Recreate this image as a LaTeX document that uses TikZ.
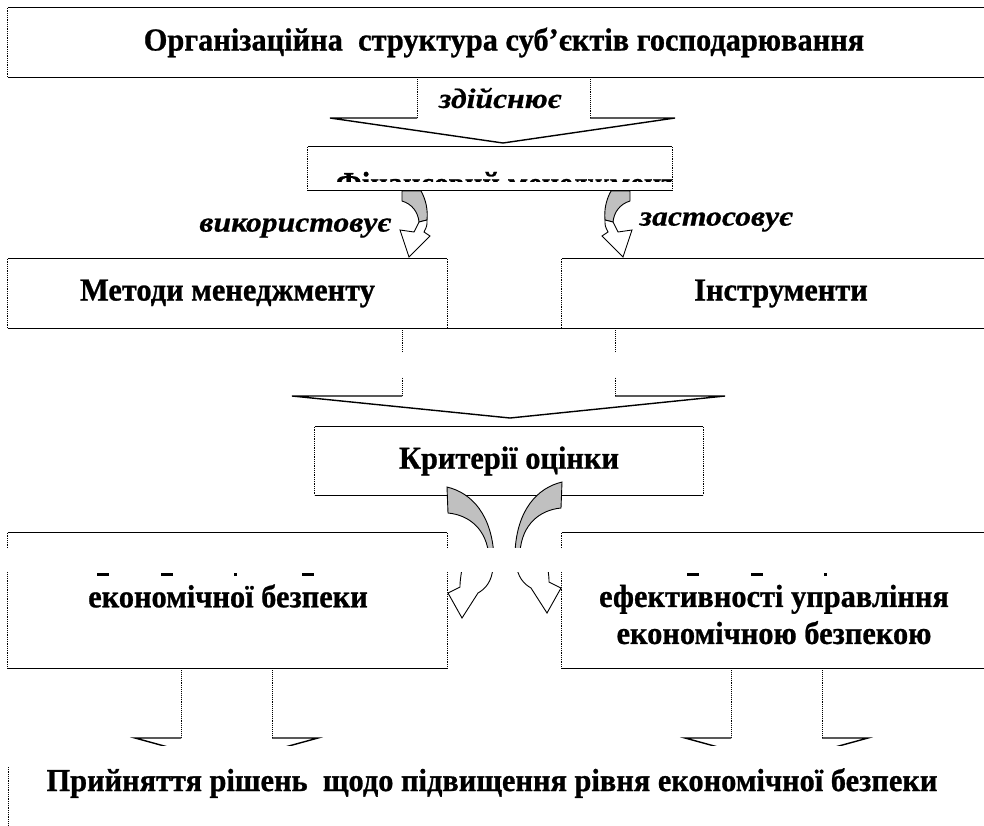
\documentclass[tikz,border=0pt]{standalone}
\usepackage{fontspec}
\setmainfont{Liberation Serif}
\newfontfamily\heavyfam{Liberation Serif}[FakeStretch=0.95,FakeBold=0.8]
\newfontfamily\verbfam{Liberation Serif}[FakeStretch=1.13,FakeBold=0.6]
\usepackage{tikz}
\usetikzlibrary{arrows.meta,positioning,calc}
\definecolor{ink}{HTML}{000000}
\definecolor{tailgray}{HTML}{C0C0C0}
\newcommand\boxfont{\heavyfam\fontsize{32}{37}\selectfont\bfseries}
\newcommand\verbfont{\verbfam\fontsize{28}{32}\selectfont\bfseries\itshape}
\tikzset{
  frame/.style ={fill=white,inner sep=0pt,align=center,font=\boxfont},
  rim/.style   ={draw=ink,line width=1.3pt},
  side/.style  ={draw=ink,line width=0.8pt,densely dotted},
  plain/.style ={inner sep=0pt,align=center,font=\boxfont},
  verb/.style  ={inner sep=0pt,font=\verbfont},
  shaft/.style ={draw=ink,line width=0.9pt,densely dotted},
  wing/.style  ={draw=ink,line width=1.4pt,line join=miter},
  tail/.style  ={fill=tailgray,draw=ink,line width=0.9pt},
  head/.style  ={fill=white,draw=ink,line width=0.9pt},
  gap/.style   ={fill=white,draw=none},
  bentarrow/.pic={
    \path[tail] (0,0) -- (19,0) .. controls (24,9) and (26,19) .. (25,29)
                -- (17,31) .. controls (16,21) and (10,13) .. (0,10) -- cycle;
    \path[head] (25,29) .. controls (25,35) .. (22,41) -- (28,45) -- (7,66)
                -- (-2,39) -- (12,41) .. controls (15,36) .. (17,31) -- cycle;
  },
  bigbent/.pic={
    \path[tail] (0,0) .. controls (25,6) and (45,28) .. (47,70)
                -- (42,70) .. controls (40,42) and (22,28) .. (1,26) -- cycle;
    \path[head] (46,80) .. controls (45,95) and (38,102) .. (31,106) -- (15,131)
                -- (1,106) -- (13,100) .. controls (13,92) and (14,90) .. (15,80) -- cycle;
  }
}

\begin{document}
\begin{tikzpicture}[x=1pt,y=-1pt]
  \useasboundingbox (0,0) rectangle (984,825);
  \clip (0,0) rectangle (984,825);
  % boxes
  \node[frame,minimum width=992pt,minimum height=69pt] (org) at (504,42.5)
       {Організаційна\ \ структура суб’єктів господарювання};
  \node[frame,minimum width=364pt,minimum height=43pt] (fin) at (490,168.5) {};
  \begin{scope}
    \clip (fin.north west) rectangle (672,181);
    \node[plain,anchor=base] (finlbl) at (506,194) {Фінансовий менеджмент};
  \end{scope}
  \node[frame,minimum width=439pt,minimum height=69pt] (meth) at (227.5,293.5) {Методи менеджменту};
  \node[frame,minimum width=438pt,minimum height=69pt] (instr) at (781,293.5) {Інструменти};
  \node[frame,minimum width=388pt,minimum height=68pt] (crit) at (509,461) {Критерії оцінки};
  \node[frame,minimum width=439pt,minimum height=135pt] (lvl) at (227.5,600.5) {};
  \node[frame,minimum width=438pt,minimum height=135pt] (eff) at (781,600.5) {};
  \foreach \b in {org,fin,meth,instr,crit,lvl,eff} {
    \draw[rim] (\b.north west) -- (\b.north east) (\b.south west) -- (\b.south east);
    \draw[side] (\b.north west) -- (\b.south west) (\b.north east) -- (\b.south east);
  }
  \draw[rim] (meth.south east) -- (instr.south west);
  \node[plain] (lvllbl) at (228,596) {економічної безпеки};
  \node[plain] (efflbl) at (774,614.5) {ефективності управління\\економічною безпекою};
  \node[plain] (dec) at (492,783) {Прийняття рішень\ \ щодо підвищення рівня економічної безпеки};
  \coordinate (decedge) at (8,767);
  \draw[side] (decedge) -- ++(0,60);

  % block arrows
  \draw[shaft] (417,0 |- org.south) -- (417,118);
  \draw[shaft] (590,0 |- org.south) -- (590,118);
  \draw[wing] (417,118) -- (330,118) -- (503,143) -- (675,118) -- (590,118);
  \node[verb] (does) at (500,98) {здійснює};

  \draw[shaft] (402,0 |- meth.south) -- (402,396);
  \draw[shaft] (615,0 |- instr.south) -- (615,396);
  \draw[wing] (402,396) -- (292,396) -- (510,418) -- (725,396) -- (615,396);

  \begin{scope}
    \clip (0,668) rectangle (984,745);
    \foreach \ax in {181,731} {
      \draw[shaft] (\ax,0 |- lvl.south) -- (\ax,738);
      \draw[shaft] (\ax+91,0 |- lvl.south) -- (\ax+91,738);
      \draw[wing] (\ax,738) -- (\ax-46,738) -- (\ax+45.5,763) -- (\ax+137,738) -- (\ax+91,738);
    }
  \end{scope}

  % bent arrows
  \pic at (402,191) {bentarrow};
  \pic[xscale=-1] at (630,191) {bentarrow};
  \node[verb] (uses) at (295,228) {використовує};
  \node[verb] (applies) at (716,222) {застосовує};
  \pic at (447,487) {bigbent};
  \pic[xscale=-1] at (562,482) {bigbent};

  % hidden strips
  \fill[gap] (0,353) rectangle (984,377);
  \fill[gap] (0,548) rectangle (984,572);
  \foreach \mx/\mw in {103/12,167/12,235/3,308/12,693/12,757/12,825/3}
    \fill[ink] (\mx-\mw/2,572.5) rectangle (\mx+\mw/2,575.5);
\end{tikzpicture}
\end{document}
